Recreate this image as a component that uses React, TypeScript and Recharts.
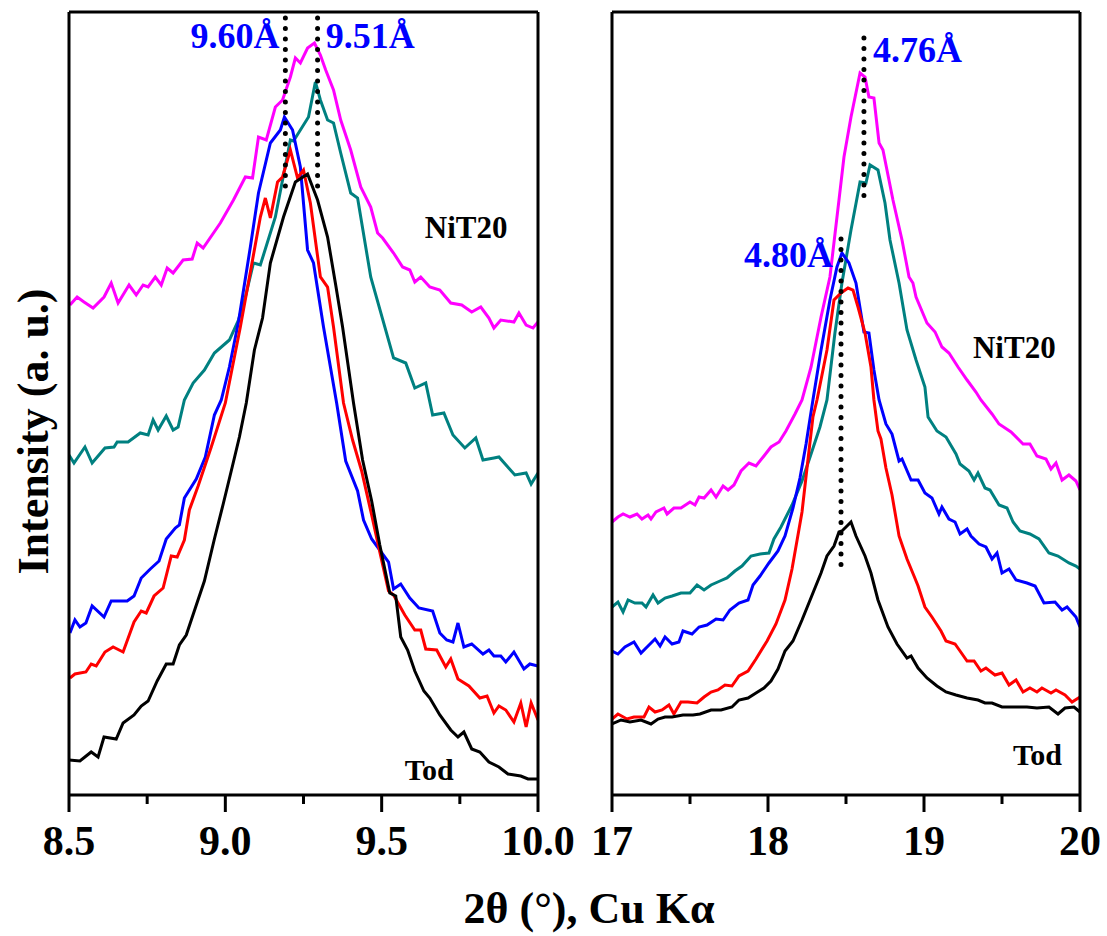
import React from 'react';
import { LineChart, Line, XAxis, YAxis, ReferenceLine, ReferenceDot } from 'recharts';

const FONT = '"Liberation Serif", "Times New Roman", serif';

// [2theta (deg), intensity (a.u.)], 8.5-10 deg window
const leftTod = [
  [8.5, 35], [8.535, 34], [8.571, 43], [8.593, 38], [8.612, 58], [8.651, 56], [8.673, 72], [8.708, 80],
  [8.731, 89], [8.753, 94], [8.782, 114], [8.811, 131], [8.833, 131], [8.853, 150], [8.875, 160], [8.904, 187],
  [8.933, 214], [8.965, 256], [8.994, 292], [9.022, 328], [9.045, 358], [9.067, 392], [9.093, 445], [9.119, 477],
  [9.144, 532], [9.186, 578], [9.224, 613], [9.263, 621], [9.295, 595], [9.327, 558], [9.353, 510], [9.375, 468],
  [9.41, 392], [9.439, 335], [9.468, 294], [9.494, 250], [9.526, 202], [9.545, 199], [9.561, 158], [9.583, 145],
  [9.606, 124], [9.635, 104], [9.654, 97], [9.686, 80], [9.721, 65], [9.744, 58], [9.763, 63], [9.788, 46],
  [9.814, 43], [9.843, 33], [9.875, 28], [9.904, 21], [9.945, 19], [9.968, 16], [10.0, 16],
];
const leftRed = [
  [8.503, 117], [8.519, 121], [8.554, 123], [8.571, 131], [8.587, 129], [8.615, 143], [8.641, 148], [8.673, 143],
  [8.708, 173], [8.731, 184], [8.747, 182], [8.772, 199], [8.801, 207], [8.827, 239], [8.846, 238], [8.869, 255],
  [8.885, 285], [8.913, 309], [8.955, 348], [9.0, 392], [9.048, 468], [9.112, 578], [9.128, 597], [9.144, 577],
  [9.167, 613], [9.183, 618], [9.208, 645], [9.231, 617], [9.25, 625], [9.272, 592], [9.304, 518], [9.327, 508],
  [9.346, 468], [9.378, 392], [9.407, 355], [9.436, 324], [9.468, 280], [9.494, 243], [9.522, 204], [9.538, 200],
  [9.574, 180], [9.606, 165], [9.625, 165], [9.641, 146], [9.676, 145], [9.705, 128], [9.721, 136], [9.744, 116],
  [9.779, 109], [9.814, 97], [9.837, 99], [9.859, 82], [9.875, 89], [9.897, 85], [9.923, 73], [9.945, 92],
  [9.962, 68], [9.978, 92], [10.0, 75],
];
const leftBlue = [
  [8.503, 162], [8.519, 175], [8.535, 168], [8.554, 172], [8.574, 189], [8.612, 178], [8.635, 194], [8.686, 194],
  [8.708, 199], [8.731, 217], [8.76, 226], [8.788, 234], [8.811, 256], [8.84, 267], [8.853, 270], [8.869, 297],
  [8.907, 316], [8.936, 338], [8.965, 380], [8.987, 395], [9.013, 428], [9.042, 473], [9.08, 548], [9.106, 602],
  [9.144, 652], [9.176, 665], [9.189, 678], [9.215, 665], [9.24, 628], [9.263, 545], [9.282, 532], [9.314, 468],
  [9.356, 392], [9.385, 334], [9.423, 304], [9.442, 275], [9.468, 256], [9.522, 233], [9.538, 206], [9.561, 211],
  [9.59, 197], [9.619, 187], [9.663, 184], [9.686, 162], [9.708, 155], [9.728, 153], [9.744, 172], [9.763, 148],
  [9.788, 151], [9.824, 141], [9.843, 145], [9.859, 139], [9.881, 139], [9.897, 133], [9.923, 143], [9.955, 126],
  [9.974, 131], [10.0, 129],
];
const leftTeal = [
  [8.5, 340], [8.516, 332], [8.551, 348], [8.574, 332], [8.615, 347], [8.644, 348], [8.654, 353], [8.689, 353],
  [8.728, 362], [8.753, 360], [8.769, 375], [8.785, 365], [8.811, 379], [8.833, 365], [8.849, 368], [8.869, 395],
  [8.897, 412], [8.933, 425], [8.965, 442], [9.013, 455], [9.042, 475], [9.064, 498], [9.09, 532], [9.112, 530],
  [9.16, 578], [9.208, 655], [9.218, 654], [9.266, 678], [9.288, 713], [9.304, 695], [9.327, 675], [9.346, 672],
  [9.369, 642], [9.401, 602], [9.423, 597], [9.465, 518], [9.538, 437], [9.577, 432], [9.606, 407], [9.641, 412],
  [9.663, 380], [9.699, 382], [9.728, 360], [9.766, 347], [9.801, 357], [9.824, 335], [9.859, 337], [9.875, 338],
  [9.926, 320], [9.962, 322], [9.978, 311], [10.0, 322],
];
const leftNiT20 = [
  [8.503, 490], [8.526, 498], [8.548, 493], [8.577, 487], [8.612, 498], [8.635, 512], [8.657, 492], [8.692, 510],
  [8.715, 500], [8.737, 510], [8.753, 508], [8.776, 518], [8.795, 510], [8.814, 527], [8.833, 522], [8.865, 535],
  [8.894, 536], [8.91, 552], [8.929, 547], [8.984, 572], [9.026, 595], [9.064, 618], [9.087, 617], [9.106, 658],
  [9.131, 655], [9.16, 688], [9.183, 695], [9.208, 718], [9.224, 737], [9.24, 732], [9.263, 747], [9.285, 752],
  [9.304, 740], [9.321, 725], [9.346, 705], [9.369, 675], [9.401, 645], [9.433, 608], [9.465, 588], [9.487, 562],
  [9.503, 557], [9.538, 542], [9.567, 528], [9.59, 525], [9.606, 513], [9.625, 518], [9.654, 508], [9.686, 505],
  [9.721, 492], [9.756, 490], [9.788, 483], [9.817, 488], [9.843, 477], [9.859, 467], [9.881, 475], [9.923, 473],
  [9.939, 482], [9.962, 470], [9.984, 467], [10.0, 473],
];

// 17-20 deg window
const rightTod = [
  [17.0, 71], [17.058, 75], [17.115, 73], [17.186, 75], [17.25, 71], [17.295, 76], [17.34, 78], [17.385, 78],
  [17.455, 80], [17.519, 80], [17.564, 81], [17.635, 85], [17.699, 85], [17.769, 88], [17.814, 95], [17.872, 97],
  [17.923, 102], [17.974, 107], [18.019, 114], [18.064, 126], [18.109, 144], [18.16, 154], [18.218, 175], [18.288, 202],
  [18.34, 222], [18.378, 239], [18.423, 249], [18.455, 263], [18.474, 264], [18.5, 268], [18.532, 273], [18.564, 259],
  [18.622, 239], [18.66, 222], [18.705, 195], [18.769, 168], [18.827, 151], [18.891, 137], [18.917, 139], [18.962, 127],
  [19.019, 117], [19.083, 109], [19.141, 103], [19.205, 100], [19.276, 97], [19.346, 95], [19.391, 92], [19.436, 92],
  [19.5, 88], [19.59, 88], [19.66, 88], [19.724, 87], [19.801, 88], [19.859, 81], [19.904, 87], [19.962, 88], [20.0, 83],
];
const rightRed = [
  [17.0, 76], [17.038, 81], [17.096, 76], [17.141, 78], [17.205, 78], [17.237, 88], [17.276, 83], [17.321, 85],
  [17.365, 90], [17.397, 81], [17.442, 93], [17.487, 93], [17.545, 92], [17.59, 98], [17.635, 103], [17.679, 105],
  [17.724, 110], [17.769, 109], [17.814, 119], [17.872, 124], [17.923, 136], [17.994, 154], [18.051, 171], [18.109, 195],
  [18.154, 226], [18.199, 266], [18.218, 283], [18.25, 327], [18.288, 378], [18.314, 395], [18.378, 445], [18.423, 495],
  [18.468, 502], [18.513, 507], [18.545, 505], [18.577, 488], [18.622, 462], [18.66, 428], [18.679, 395], [18.705, 364],
  [18.724, 356], [18.756, 327], [18.795, 300], [18.84, 259], [18.891, 236], [18.936, 219], [18.962, 209], [19.006, 188],
  [19.051, 178], [19.109, 164], [19.141, 154], [19.199, 151], [19.231, 144], [19.276, 134], [19.321, 134], [19.365, 124],
  [19.397, 127], [19.455, 120], [19.5, 122], [19.545, 110], [19.59, 115], [19.635, 103], [19.679, 107], [19.724, 103],
  [19.756, 107], [19.814, 102], [19.846, 105], [19.904, 100], [19.949, 93], [20.0, 98],
];
const rightBlue = [
  [17.0, 144], [17.038, 141], [17.083, 148], [17.141, 153], [17.186, 142], [17.231, 149], [17.276, 156], [17.308, 149],
  [17.34, 158], [17.385, 151], [17.429, 153], [17.455, 164], [17.513, 161], [17.558, 168], [17.609, 170], [17.667, 176],
  [17.712, 175], [17.756, 185], [17.814, 192], [17.872, 195], [17.904, 210], [17.949, 219], [18.006, 232], [18.064, 244],
  [18.109, 259], [18.16, 287], [18.205, 317], [18.244, 351], [18.288, 395], [18.34, 445], [18.397, 495], [18.442, 528],
  [18.474, 542], [18.519, 532], [18.564, 512], [18.615, 463], [18.647, 462], [18.679, 425], [18.712, 395], [18.756, 371],
  [18.795, 361], [18.84, 334], [18.859, 336], [18.917, 315], [18.962, 315], [19.006, 302], [19.051, 297], [19.096, 281],
  [19.115, 288], [19.16, 276], [19.199, 273], [19.231, 261], [19.276, 266], [19.301, 259], [19.353, 251], [19.397, 248],
  [19.436, 236], [19.468, 242], [19.5, 222], [19.545, 226], [19.59, 215], [19.66, 212], [19.712, 209], [19.769, 192],
  [19.84, 193], [19.885, 185], [19.917, 188], [19.974, 178], [20.0, 168],
];
const rightTeal = [
  [17.0, 188], [17.038, 193], [17.071, 183], [17.103, 195], [17.147, 192], [17.192, 192], [17.218, 188], [17.263, 200],
  [17.295, 192], [17.34, 197], [17.385, 199], [17.442, 202], [17.5, 202], [17.545, 210], [17.59, 205], [17.635, 210],
  [17.692, 214], [17.737, 217], [17.788, 224], [17.833, 229], [17.891, 239], [17.949, 241], [18.006, 242], [18.038, 256],
  [18.083, 268], [18.154, 290], [18.218, 314], [18.276, 341], [18.333, 368], [18.378, 395], [18.429, 462], [18.474, 512],
  [18.532, 565], [18.59, 613], [18.628, 612], [18.654, 630], [18.705, 625], [18.75, 592], [18.782, 555], [18.84, 512],
  [18.891, 465], [18.949, 435], [19.006, 408], [19.026, 378], [19.083, 364], [19.141, 358], [19.205, 341], [19.231, 331],
  [19.288, 324], [19.321, 315], [19.346, 322], [19.391, 307], [19.423, 305], [19.481, 290], [19.532, 287], [19.571, 273],
  [19.615, 264], [19.679, 261], [19.737, 256], [19.801, 242], [19.859, 239], [19.929, 232], [19.974, 229], [20.0, 226],
];
const rightNiT20 = [
  [17.0, 273], [17.038, 278], [17.071, 281], [17.115, 278], [17.16, 281], [17.192, 276], [17.231, 280], [17.25, 276],
  [17.282, 283], [17.333, 287], [17.353, 281], [17.397, 287], [17.442, 287], [17.5, 293], [17.532, 290], [17.558, 298],
  [17.59, 297], [17.635, 305], [17.667, 298], [17.712, 309], [17.744, 305], [17.782, 310], [17.827, 324], [17.878, 332],
  [17.923, 329], [17.974, 339], [18.019, 348], [18.071, 353], [18.115, 364], [18.173, 381], [18.218, 395], [18.276, 428],
  [18.34, 478], [18.397, 518], [18.455, 595], [18.487, 638], [18.532, 678], [18.59, 722], [18.622, 718], [18.647, 698],
  [18.679, 697], [18.712, 652], [18.737, 645], [18.801, 595], [18.859, 555], [18.904, 518], [18.929, 512], [18.949, 498],
  [19.019, 472], [19.071, 463], [19.115, 448], [19.16, 442], [19.218, 428], [19.276, 415], [19.333, 403], [19.365, 395],
  [19.436, 381], [19.481, 371], [19.558, 363], [19.635, 351], [19.679, 351], [19.724, 339], [19.782, 336], [19.814, 326],
  [19.846, 332], [19.885, 315], [19.929, 320], [19.974, 314], [20.0, 305],
];

const leftTicks = [8.5, 8.75, 9.0, 9.25, 9.5, 9.75, 10.0];
const leftMajor = [8.5, 9.0, 9.5, 10.0];
const rightTicks = [17, 17.5, 18, 18.5, 19, 19.5, 20];
const rightMajor = [17, 18, 19, 20];

const Y_MAX = 783;

const rows = (pts: number[][]) => pts.map(([t, i]) => ({ t, i }));

const makeTick = (majors: number[], fmt: (v: number) => string) => (props: any) => {
  const { x, y, payload } = props;
  const v = payload.value;
  const major = majors.some((m) => Math.abs(m - v) < 1e-6);
  return (
    <g>
      <line x1={x} y1={y} x2={x} y2={y + (major ? 17 : 9)} stroke="#000" strokeWidth={3} />
      {major && (
        <text x={x} y={y + 60} textAnchor="middle" fontSize={42} fontWeight="bold" fontFamily={FONT} fill="#000">
          {fmt(v)}
        </text>
      )}
    </g>
  );
};

const tag = (text: string, color: string, size: number, anchor: 'start' | 'end') => (p: any) => (
  <text x={p.cx} y={p.cy} textAnchor={anchor} fontSize={size} fontWeight="bold" fontFamily={FONT} fill={color}>
    {text}
  </text>
);

const frame = { stroke: '#000', strokeWidth: 3 };
const dotted = { stroke: '#000', strokeWidth: 5, strokeDasharray: '0 10.5', strokeLinecap: 'round' as const };

const series = (mag: number[][], teal: number[][], blue: number[][], red: number[][], tod: number[][]) => [
  <Line key="m" data={rows(mag)} dataKey="i" stroke="#FF00FF" strokeWidth={3} dot={false} isAnimationActive={false} />,
  <Line key="t" data={rows(teal)} dataKey="i" stroke="#008080" strokeWidth={3} dot={false} isAnimationActive={false} />,
  <Line key="b" data={rows(blue)} dataKey="i" stroke="#0000FF" strokeWidth={3} dot={false} isAnimationActive={false} />,
  <Line key="r" data={rows(red)} dataKey="i" stroke="#FF0000" strokeWidth={3} dot={false} isAnimationActive={false} />,
  <Line key="k" data={rows(tod)} dataKey="i" stroke="#000000" strokeWidth={3} dot={false} isAnimationActive={false} />,
];

// plot box: left/right are pixel edges of the frame; axes of width/height 1 carry the frame lines
function Panel({ domain, ticks, tick, left, right, children, yLabel, xLabel }: any) {
  const margin = { top: 11, right: 1107 - right - 1, bottom: 81, left: left - 1 };
  return (
    <div style={{ position: 'absolute', left: 0, top: 0 }}>
      <LineChart width={1107} height={936} margin={margin}>
        <XAxis
          dataKey="t"
          type="number"
          domain={domain}
          ticks={ticks}
          interval={0}
          tick={tick}
          tickLine={false}
          tickSize={0}
          tickMargin={0}
          height={60}
          axisLine={frame}
          allowDataOverflow
          label={xLabel}
        />
        <XAxis xAxisId="top" orientation="top" type="number" domain={domain} tick={false} tickLine={false} height={1} axisLine={frame} />
        <YAxis type="number" domain={[0, Y_MAX]} tick={false} tickLine={false} width={1} axisLine={frame} label={yLabel} />
        <YAxis yAxisId="r" orientation="right" type="number" domain={[0, Y_MAX]} tick={false} tickLine={false} width={1} axisLine={frame} />
        {children}
      </LineChart>
    </div>
  );
}

export default function App() {
  const yTitle = {
    content: ({ viewBox }: any) => {
      const cx = viewBox.x - 35;
      const cy = viewBox.y + viewBox.height / 2 + 28;
      return (
        <text x={cx} y={cy} transform={`rotate(-90, ${cx}, ${cy})`} textAnchor="middle" dominantBaseline="central"
          fontSize={44} fontWeight="bold" fontFamily={FONT} fill="#000">
          Intensity (a. u.)
        </text>
      );
    },
  };
  const xTitle = {
    content: ({ viewBox }: any) => (
      <text x={viewBox.x + 520} y={viewBox.y + 128} textAnchor="middle" fontSize={44} fontWeight="bold" fontFamily={FONT} fill="#000">
        2θ (°), Cu Kα
      </text>
    ),
  };

  return (
    <div style={{ position: 'absolute', left: 0, top: 0, width: 1107, height: 936, background: '#fff' }}>
      <Panel
        domain={[8.5, 10]}
        ticks={leftTicks}
        tick={makeTick(leftMajor, (v) => v.toFixed(1))}
        left={69}
        right={538}
        yLabel={yTitle}
        xLabel={xTitle}
      >
        {series(leftNiT20, leftTeal, leftBlue, leftRed, leftTod)}
        <ReferenceLine segment={[{ x: 9.192, y: 777 }, { x: 9.192, y: 607 }]} {...dotted} />
        <ReferenceLine segment={[{ x: 9.295, y: 777 }, { x: 9.295, y: 607 }]} {...dotted} />
        <ReferenceDot x={9.173} y={747} r={0} shape={tag('9.60Å', '#0000FF', 36, 'end')} />
        <ReferenceDot x={9.321} y={747} r={0} shape={tag('9.51Å', '#0000FF', 36, 'start')} />
        <ReferenceDot x={9.638} y={557} r={0} shape={tag('NiT20', '#000', 31, 'start')} />
        <ReferenceDot x={9.574} y={15} r={0} shape={tag('Tod', '#000', 30, 'start')} />
      </Panel>
      <Panel
        domain={[17, 20]}
        ticks={rightTicks}
        tick={makeTick(rightMajor, (v) => String(v))}
        left={612}
        right={1080}
      >
        {series(rightNiT20, rightTeal, rightBlue, rightRed, rightTod)}
        <ReferenceLine segment={[{ x: 18.615, y: 757 }, { x: 18.615, y: 589 }]} {...dotted} />
        <ReferenceLine segment={[{ x: 18.468, y: 556 }, { x: 18.468, y: 220 }]} {...dotted} />
        <ReferenceDot x={18.673} y={733} r={0} shape={tag('4.76Å', '#0000FF', 36, 'start')} />
        <ReferenceDot x={18.417} y={528} r={0} shape={tag('4.80Å', '#0000FF', 36, 'end')} />
        <ReferenceDot x={19.314} y={437} r={0} shape={tag('NiT20', '#000', 31, 'start')} />
        <ReferenceDot x={19.571} y={30} r={0} shape={tag('Tod', '#000', 30, 'start')} />
      </Panel>
    </div>
  );
}
